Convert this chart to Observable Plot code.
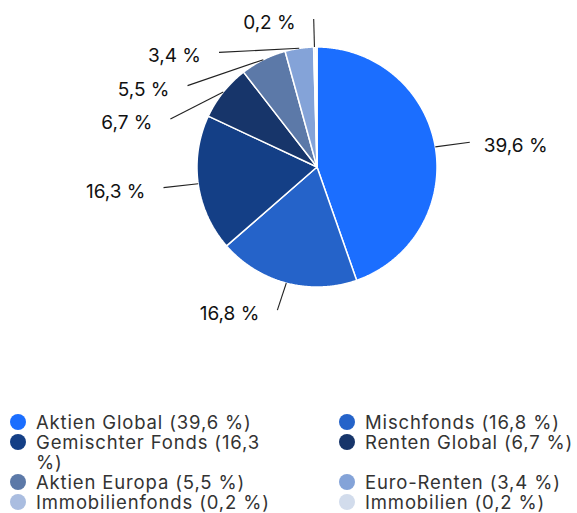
<!DOCTYPE html>
<html>
<head>
<meta charset="utf-8">
<script src="https://cdn.jsdelivr.net/npm/d3@7"></script>
<script src="https://cdn.jsdelivr.net/npm/@observablehq/plot@0.6"></script>
<style>
  body { margin: 0; background: #fff; font-family: Inter, "Noto Sans", sans-serif; }
  #chart svg { display: block; }
  .legend { display: grid; grid-template-columns: 329px 248px; padding-left: 10px; margin-top: 12px; row-gap: 0; }
  .item { display: flex; align-items: flex-start; font-size: 18.5px; letter-spacing: 0.85px; line-height: 20px; color: #333; }
  .dot { width: 16px; height: 16px; border-radius: 50%; flex: none; margin-top: 2px; margin-right: 10px; }
  .col1 .txt { max-width: 250px; }
  .col2 .txt { white-space: nowrap; }
</style>
</head>
<body>
<div id="chart"></div>
<div class="legend" id="legend"></div>
<script>
const names = ["Aktien Global", "Mischfonds", "Gemischter Fonds", "Renten Global", "Aktien Europa", "Euro-Renten", "Immobilienfonds", "Immobilien"];
const values = [39.6, 16.8, 16.3, 6.7, 5.5, 3.4, 0.2, 0.2];
const colors = ["#1b6eff", "#2563c9", "#143f86", "#17356a", "#5c79a8", "#84a3d8", "#aabde0", "#d2dcec"];

const W = 577, H = 400, CX = 316.5, CY = 166.5, R = 120;
const LRX = 155, LRY = 148, GAP = 33.3;
const fmt = v => String(v).replace(".", ",") + " %";

const total = d3.sum(values);
let acc = 0;
const slices = names.map((name, i) => {
  const a0 = acc / total * 2 * Math.PI; acc += values[i];
  const a1 = acc / total * 2 * Math.PI;
  return {name, value: values[i], color: colors[i], a0, a1, mid: (a0 + a1) / 2};
});

// polygon points
const polys = slices.map(s => {
  const pts = [{x: 0, y: 0}];
  const n = Math.max(2, Math.ceil((s.a1 - s.a0) / (Math.PI / 360)));
  for (let k = 0; k <= n; k++) {
    const a = s.a0 + (s.a1 - s.a0) * k / n;
    pts.push({x: R * Math.sin(a), y: -R * Math.cos(a)});
  }
  return pts;
});

// label placement
const placed = [];
slices.forEach(s => {
  if (placed.some(p => Math.abs(p.mid - s.mid) < 2 * Math.PI / 180)) return;
  placed.push({...s, left: s.mid > Math.PI, lx: LRX * Math.sin(s.mid), ly: -LRY * Math.cos(s.mid)});
});
function spread(list) {
  list.sort((a, b) => a.ly - b.ly);
  let prev = -Infinity;
  list.forEach(p => {
    if (p.ly < prev + GAP) {
      p.ly = prev + GAP;
      const t = Math.min(1, Math.abs(p.ly) / LRY);
      p.lx = (p.left ? -1 : 1) * LRX * Math.sqrt(1 - t * t);
    }
    prev = p.ly;
  });
}
spread(placed.filter(p => p.left));
spread(placed.filter(p => !p.left));
const labels = placed.map(p => ({...p, sx: R * Math.sin(p.mid), sy: -R * Math.cos(p.mid), text: fmt(p.value)}));

const marks = polys.map((pts, i) => Plot.line(pts, {x: "x", y: "y", fill: slices[i].color, stroke: "white", strokeWidth: 1.5, curve: "linear-closed", strokeLinejoin: "miter"}));
marks.push(Plot.link(labels, {x1: "sx", y1: "sy", x2: "lx", y2: "ly", stroke: "#222", strokeWidth: 1.1}));
const textStyle = {x: "lx", y: "ly", text: "text", dy: 4, fontSize: 19, fill: "#111", fontFamily: "Inter", letterSpacing: "0.5px"};
marks.push(Plot.text(labels.filter(d => !d.left), {...textStyle, textAnchor: "start", dx: 14}));
marks.push(Plot.text(labels.filter(d => d.left), {...textStyle, textAnchor: "end", dx: -18}));

const chart = Plot.plot({
  width: W, height: H, margin: 0,
  x: {domain: [-CX, W - CX], range: [0, W], axis: null},
  y: {domain: [-CY, H - CY], range: [0, H], axis: null},
  style: {background: "white", overflow: "visible"},
  marks
});
document.getElementById("chart").append(chart);

const leg = document.getElementById("legend");
slices.forEach((s, i) => {
  const it = document.createElement("div");
  it.className = "item " + (i % 2 === 0 ? "col1" : "col2");
  it.innerHTML = `<span class="dot" style="background:${s.color}"></span><span class="txt">${s.name} (${fmt(s.value)})</span>`;
  leg.append(it);
});
</script>
</body>
</html>
